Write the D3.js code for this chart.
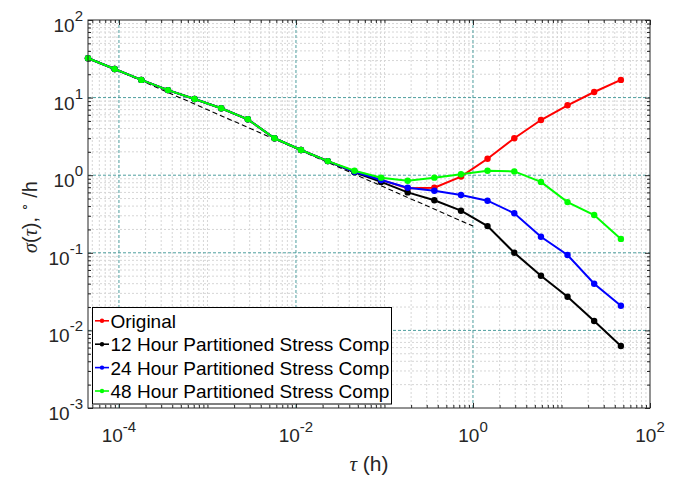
<!doctype html>
<html>
<head>
<meta charset="utf-8">
<script src="https://d3js.org/d3.v7.min.js"></script>
<style>
  body { margin: 0; background: #fff; }
  text { font-family: "Liberation Sans", Arial, sans-serif; fill: #262626; }
</style>
</head>
<body>
<svg width="678" height="478"></svg>
<script>
// averaging time tau (h), octave steps
var tau = [4.47e-5, 8.94e-5, 1.79e-4, 3.58e-4, 7.15e-4, 1.43e-3, 2.86e-3, 5.72e-3,
           1.14e-2, 2.29e-2, 4.58e-2, 9.16e-2, 0.183, 0.366, 0.732, 1.46, 2.93,
           5.86, 11.7, 23.4, 46.9];

// Allan deviation (deg/h)
var original = [32.1, 23.4, 16.9, 12.5, 9.6, 7.3, 5.25, 2.99, 2.11, 1.52, 1.11,
                0.87, 0.68, 0.69, 0.96, 1.63, 2.99, 5.14, 7.96, 11.8, 16.9];
var comp12 = [32.1, 23.4, 16.9, 12.5, 9.6, 7.3, 5.25, 2.99, 2.11, 1.52, 1.09,
              0.82, 0.60, 0.475, 0.349, 0.221, 0.100, 0.0507, 0.0272, 0.0132, 0.0063];
var comp24 = [32.1, 23.4, 16.9, 12.5, 9.6, 7.3, 5.25, 2.99, 2.11, 1.52, 1.11,
              0.867, 0.69, 0.63, 0.556, 0.469, 0.323, 0.161, 0.0937, 0.040, 0.0208];
var comp48 = [32.1, 23.4, 16.9, 12.5, 9.6, 7.3, 5.25, 2.99, 2.11, 1.52, 1.14,
              0.93, 0.85, 0.93, 1.03, 1.14, 1.12, 0.82, 0.45, 0.307, 0.151];

// dashed reference (angle random walk, slope -1/2)
var refTau = [4.47e-5, 1];
var refSigma = [33.0, 0.221];

var seriesNames = ["Original", "12 Hour Partitioned Stress Comp",
                   "24 Hour Partitioned Stress Comp", "48 Hour Partitioned Stress Comp"];
var seriesColors = ["#ff0000", "#000000", "#0000ff", "#00ff00"];
var seriesValues = [original, comp12, comp24, comp48];

var xTickExp = [-4, -2, 0, 2];
var yTickExp = [-3, -2, -1, 0, 1, 2];

var svg = d3.select("svg"),
    margin = {top: 20, right: 28, bottom: 70, left: 88},
    width = 678 - margin.left - margin.right,
    height = 478 - margin.top - margin.bottom;

var x = d3.scaleLog().domain([tau[0], 100]).range([0, width]);
var y = d3.scaleLog().domain([1e-3, 1e2]).range([height, 0]);

var g = svg.append("g")
    .attr("transform", "translate(" + margin.left + "," + margin.top + ")");

// grid values
var xMajor = xTickExp.map(function(e) { return Math.pow(10, e); });
var yMajor = yTickExp.map(function(e) { return Math.pow(10, e); });
var xMinor = [], yMinor = [];
for (var e = -5; e < 2; e++) {
    for (var m = 1; m < 10; m++) {
        if (m == 1 && xTickExp.indexOf(e) >= 0) continue;
        var v = m * Math.pow(10, e);
        if (v > tau[0] && v < 100) xMinor.push(v);
    }
}
for (var e = -3; e < 2; e++) {
    for (var m = 2; m < 10; m++) yMinor.push(m * Math.pow(10, e));
}

// minor grid
g.append("g").selectAll("line").data(xMinor).enter().append("line")
    .attr("x1", function(d) { return x(d); }).attr("x2", function(d) { return x(d); })
    .attr("y1", 0).attr("y2", height)
    .attr("stroke", "#d6d6d6").attr("stroke-dasharray", "2,2");
g.append("g").selectAll("line").data(yMinor).enter().append("line")
    .attr("y1", function(d) { return y(d); }).attr("y2", function(d) { return y(d); })
    .attr("x1", 0).attr("x2", width)
    .attr("stroke", "#d6d6d6").attr("stroke-dasharray", "2,2");

// major grid (teal dashed)
g.append("g").selectAll("line").data(xMajor.filter(function(d) { return d < 100; })).enter().append("line")
    .attr("x1", function(d) { return x(d); }).attr("x2", function(d) { return x(d); })
    .attr("y1", 0).attr("y2", height)
    .attr("stroke", "#4d9e9e").attr("stroke-dasharray", "3,2");
g.append("g").selectAll("line").data(yMajor.filter(function(d) { return d > 1e-3 && d < 1e2; })).enter().append("line")
    .attr("y1", function(d) { return y(d); }).attr("y2", function(d) { return y(d); })
    .attr("x1", 0).attr("x2", width)
    .attr("stroke", "#4d9e9e").attr("stroke-dasharray", "3,2");

// reference dashed line
g.append("line")
    .attr("x1", x(refTau[0])).attr("y1", y(refSigma[0]))
    .attr("x2", x(refTau[1])).attr("y2", y(refSigma[1]))
    .attr("stroke", "#000").attr("stroke-width", 1.1).attr("stroke-dasharray", "5,3");

// series
var line = d3.line()
    .x(function(d) { return x(d[0]); })
    .y(function(d) { return y(d[1]); });

seriesValues.forEach(function(vals, i) {
    var pts = tau.map(function(t, k) { return [t, vals[k]]; });
    g.append("path").datum(pts)
        .attr("fill", "none")
        .attr("stroke", seriesColors[i])
        .attr("stroke-width", 2)
        .attr("d", line);
    g.append("g").selectAll("circle").data(pts).enter().append("circle")
        .attr("cx", function(d) { return x(d[0]); })
        .attr("cy", function(d) { return y(d[1]); })
        .attr("r", 3.2)
        .attr("fill", seriesColors[i]);
});

// tick marks (inside, on all four sides)
function ticks(axis, vals, size, tr) {
    g.append("g").attr("transform", tr)
        .call(axis.tickValues(vals).tickSize(size).tickFormat(""))
        .call(function(s) { s.select(".domain").remove(); s.selectAll("line").attr("stroke", "#262626"); });
}
ticks(d3.axisBottom(x), xMajor, -5, "translate(0," + height + ")");
ticks(d3.axisBottom(x), xMinor, -3, "translate(0," + height + ")");
ticks(d3.axisTop(x), xMajor, -5, "translate(0,0)");
ticks(d3.axisTop(x), xMinor, -3, "translate(0,0)");
ticks(d3.axisLeft(y), yMajor, -5, "translate(0,0)");
ticks(d3.axisLeft(y), yMinor, -3, "translate(0,0)");
ticks(d3.axisRight(y), yMajor, -5, "translate(" + width + ",0)");
ticks(d3.axisRight(y), yMinor, -3, "translate(" + width + ",0)");

// box
g.append("rect").attr("width", width).attr("height", height)
    .attr("fill", "none").attr("stroke", "#262626").attr("stroke-width", 1);

// tick labels
xTickExp.forEach(function(e) {
    var t = g.append("text")
        .attr("x", x(Math.pow(10, e))).attr("y", height + 34)
        .attr("text-anchor", "middle").attr("font-size", "19px");
    t.append("tspan").text("10");
    t.append("tspan").attr("dy", -10).attr("font-size", "15px").text(e < 0 ? "-" + (-e) : e);
});
yTickExp.forEach(function(e) {
    var t = g.append("text")
        .attr("x", -5).attr("y", y(Math.pow(10, e)) + 12)
        .attr("text-anchor", "end").attr("font-size", "19px");
    t.append("tspan").text("10");
    t.append("tspan").attr("dy", -11).attr("font-size", "15px").text(e < 0 ? "-" + (-e) : e);
});

// axis labels
var xl = svg.append("text")
    .attr("x", margin.left + width / 2).attr("y", 471)
    .attr("text-anchor", "middle").attr("font-size", "21px");
xl.append("tspan").attr("font-family", "Liberation Serif, serif").attr("font-style", "italic").text("τ");
xl.append("tspan").text(" (h)");

var yl = svg.append("text")
    .attr("transform", "translate(37," + (margin.top + height / 2 + 3) + ") rotate(-90)")
    .attr("text-anchor", "middle").attr("font-size", "20px");
yl.append("tspan").attr("font-family", "Liberation Serif, serif").attr("font-style", "italic").text("σ");
yl.append("tspan").text("(");
yl.append("tspan").attr("font-family", "Liberation Serif, serif").attr("font-style", "italic").text("τ");
yl.append("tspan").text("), ");
yl.append("tspan").attr("dy", -9).attr("font-size", "13px").text("∘");
yl.append("tspan").attr("dy", 9).text(" /h");

// legend
var lg = svg.append("g").attr("transform", "translate(92.5,307.5)");
lg.append("rect").attr("width", 299).attr("height", 96.5)
    .attr("fill", "#fff").attr("stroke", "#000").attr("stroke-width", 1);
seriesNames.forEach(function(name, i) {
    var cy = 13.3 + i * 23.4;
    lg.append("line").attr("x1", 2.5).attr("x2", 16.5).attr("y1", cy).attr("y2", cy)
        .attr("stroke", seriesColors[i]).attr("stroke-width", 1.6);
    lg.append("circle").attr("cx", 9.5).attr("cy", cy).attr("r", 2.2).attr("fill", seriesColors[i]);
    lg.append("text").attr("x", 18).attr("y", cy + 7)
        .attr("font-size", "19px").style("fill", "#000").text(name);
});
</script>
</body>
</html>
